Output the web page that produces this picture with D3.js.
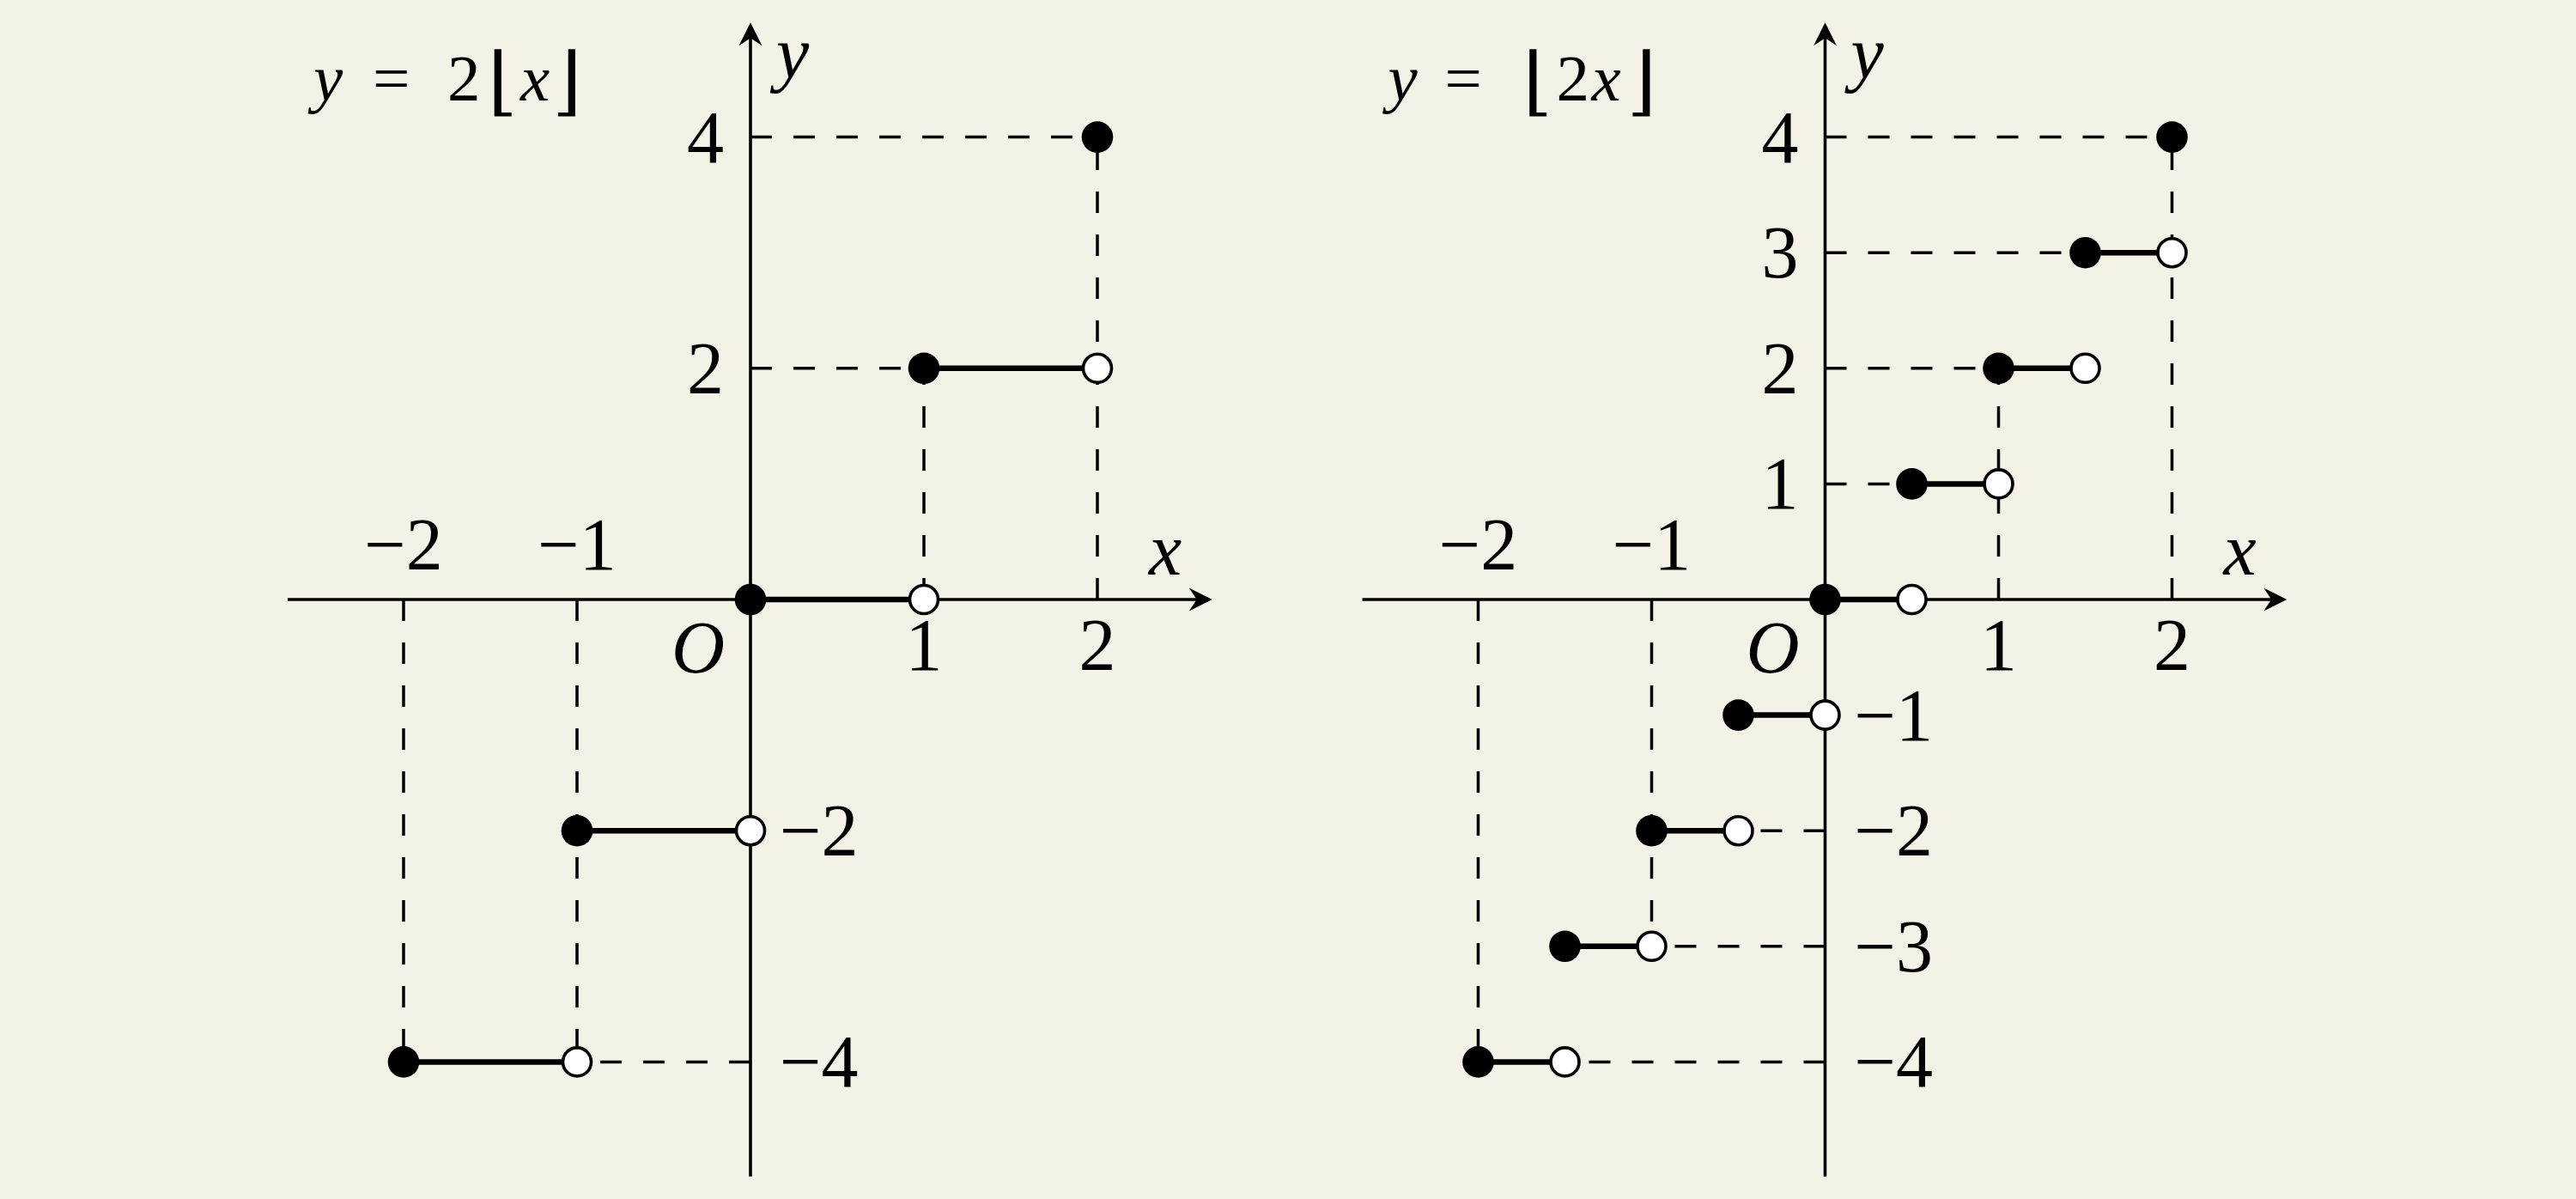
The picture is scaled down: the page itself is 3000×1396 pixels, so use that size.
<!DOCTYPE html>
<html><head><meta charset="utf-8">
<script src="https://cdn.jsdelivr.net/npm/d3@7"></script>
<style>html,body{margin:0;padding:0;background:#f2f2e6;} svg{display:block}</style>
</head><body><svg id="c" width="3000" height="1396"></svg>
<script>
// ---------- data ----------
const leftStepStarts = [-2, -1, 0, 1];
const leftStepEnds   = [-1, 0, 1, 2];
const leftStepValues = [-4, -2, 0, 2];
const leftEndPoint   = [2, 4];
const leftHGuides = [[4, 0, 2], [2, 0, 1], [-4, 0, -1]];          // [y, fromX, toX]
const leftVGuides = [[2, 0, 4], [1, 0, 2], [-1, 0, -4], [-2, 0, -4]]; // [x, fromY, toY]

const rightStepStarts = [-2, -1.5, -1, -0.5, 0, 0.5, 1, 1.5];
const rightStepEnds   = [-1.5, -1, -0.5, 0, 0.5, 1, 1.5, 2];
const rightStepValues = [-4, -3, -2, -1, 0, 1, 2, 3];
const rightEndPoint   = [2, 4];
const rightHGuides = [[4, 0, 2], [3, 0, 1.5], [2, 0, 1], [1, 0, 0.5], [-2, 0, -0.5], [-3, 0, -1], [-4, 0, -1.5]];
const rightVGuides = [[2, 0, 4], [1, 0, 2], [-1, 0, -3], [-2, 0, -4]];

const xTicksAbove = [-2, -1];
const xTicksBelow = [1, 2];
const leftYTicks  = [4, 2, -2, -4];
const rightYTicks = [4, 3, 2, 1, -1, -2, -3, -4];
const leftTitle  = ["y", "=", "2", "\u230A", "x", "\u230B"];
const rightTitle = ["y", "=", "\u230A", "2", "x", "\u230B"];
const xDomain = [-2.668, 2.662];
const yDomain = [-4.99, 4.99];

// ---------- layout ----------
const svg = d3.select("#c");
svg.append("rect").attr("width", 3000).attr("height", 1396).attr("fill", "#f2f2e6");
const FONT = "'Liberation Serif','Times New Roman',serif";
const UX = 202, UY = 134.6, OY = 698;

function panel(cfg) {
  const ox = cfg.ox;
  const x = d3.scaleLinear().domain([0, 1]).range([ox, ox + UX]);
  const y = d3.scaleLinear().domain([0, 1]).range([OY, OY - UY]);
  const g = svg.append("g");

  // axes
  g.append("line").attr("x1", x(xDomain[0])).attr("x2", x(xDomain[1]) - 6)
    .attr("y1", y(0)).attr("y2", y(0)).attr("stroke", "#000").attr("stroke-width", 3.6);
  g.append("line").attr("x1", x(0)).attr("x2", x(0))
    .attr("y1", y(yDomain[0])).attr("y2", y(yDomain[1]) + 6).attr("stroke", "#000").attr("stroke-width", 3.6);
  // arrow heads
  const tx = x(xDomain[1]), ty = y(0);
  g.append("path").attr("d", `M${tx},${ty} L${tx - 27},${ty - 13.5} L${tx - 18},${ty} L${tx - 27},${ty + 13.5} Z`).attr("fill", "#000");
  const ax = x(0), ay = y(yDomain[1]);
  g.append("path").attr("d", `M${ax},${ay} L${ax - 13.5},${ay + 27} L${ax},${ay + 18} L${ax + 13.5},${ay + 27} Z`).attr("fill", "#000");

  // dashed guides
  g.selectAll(".hg").data(cfg.hg).join("line")
    .attr("x1", d => x(d[1])).attr("x2", d => x(d[2]))
    .attr("y1", d => y(d[0])).attr("y2", d => y(d[0]))
    .attr("stroke", "#000").attr("stroke-width", 3.5).attr("stroke-dasharray", "25,25");
  g.selectAll(".vg").data(cfg.vg).join("line")
    .attr("x1", d => x(d[0])).attr("x2", d => x(d[0]))
    .attr("y1", d => y(d[1])).attr("y2", d => y(d[2]))
    .attr("stroke", "#000").attr("stroke-width", 3.5).attr("stroke-dasharray", "25,25");

  // step segments
  const steps = cfg.starts.map((s, i) => ({ x0: s, x1: cfg.ends[i], v: cfg.values[i] }));
  g.selectAll(".seg").data(steps).join("line")
    .attr("x1", d => x(d.x0)).attr("x2", d => x(d.x1))
    .attr("y1", d => y(d.v)).attr("y2", d => y(d.v))
    .attr("stroke", "#000").attr("stroke-width", 6.5);
  // open circles at right ends
  g.selectAll(".open").data(steps).join("circle")
    .attr("cx", d => x(d.x1)).attr("cy", d => y(d.v)).attr("r", 16.5)
    .attr("fill", "#fff").attr("stroke", "#000").attr("stroke-width", 3.6);
  // filled circles at left ends
  g.selectAll(".fill").data(steps).join("circle")
    .attr("cx", d => x(d.x0)).attr("cy", d => y(d.v)).attr("r", 18.3).attr("fill", "#000");
  g.append("circle").attr("cx", x(cfg.end[0])).attr("cy", y(cfg.end[1])).attr("r", 18.3).attr("fill", "#000");

  // tick labels
  const lab = (sel) => sel.attr("font-family", FONT).attr("font-size", 86).attr("fill", "#000");
  const fmt = v => (v < 0 ? "\u2212" + Math.abs(v) : String(v));
  g.selectAll(".xa").data(xTicksAbove).join("text").call(lab)
    .attr("x", d => x(d)).attr("y", 663).attr("text-anchor", "middle").text(fmt);
  g.selectAll(".xb").data(xTicksBelow).join("text").call(lab)
    .attr("x", d => x(d)).attr("y", 780).attr("text-anchor", "middle").text(fmt);
  g.selectAll(".yl").data(cfg.yt).join("text").call(lab)
    .attr("x", d => d > 0 ? x(0) - 31 : x(0) + 34)
    .attr("y", d => y(d) + 29)
    .attr("text-anchor", d => d > 0 ? "end" : "start").text(fmt);
  // O, x, y
  g.append("text").call(lab).attr("font-style", "italic").attr("x", x(0) - 30).attr("y", 783)
    .attr("text-anchor", "end").text("O");
  g.append("text").call(lab).attr("font-style", "italic").attr("x", x(0) + 464).attr("y", 669).text("x");
  g.append("text").call(lab).attr("font-style", "italic").attr("x", x(0) + 30).attr("y", 90).text("y");

  // title
  const t = g.append("text").attr("font-family", FONT).attr("font-size", 77).attr("fill", "#000");
  cfg.title.forEach((c, i) => {
    const isBr = c === "\u230A" || c === "\u230B";
    const isVar = c === "x" || c === "y";
    t.append("tspan").attr("x", x(0) + cfg.tx[i]).attr("y", isBr ? 124 : 117)
      .attr("font-style", isVar ? "italic" : "normal")
      .attr("font-family", isBr ? "'DejaVu Serif',serif" : FONT)
      .attr("font-size", isBr ? 88 : 77)
      .text(c);
  });
}

panel({ ox: 874, starts: leftStepStarts, ends: leftStepEnds, values: leftStepValues, end: leftEndPoint,
        hg: leftHGuides, vg: leftVGuides, yt: leftYTicks, title: leftTitle,
        tx: [-509, -440, -353, -306, -268, -231] });
panel({ ox: 2125.5, starts: rightStepStarts, ends: rightStepEnds, values: rightStepValues, end: rightEndPoint,
        hg: rightHGuides, vg: rightVGuides, yt: rightYTicks, title: rightTitle,
        tx: [-509, -443, -352, -313, -272, -231] });
</script>
</body></html>
